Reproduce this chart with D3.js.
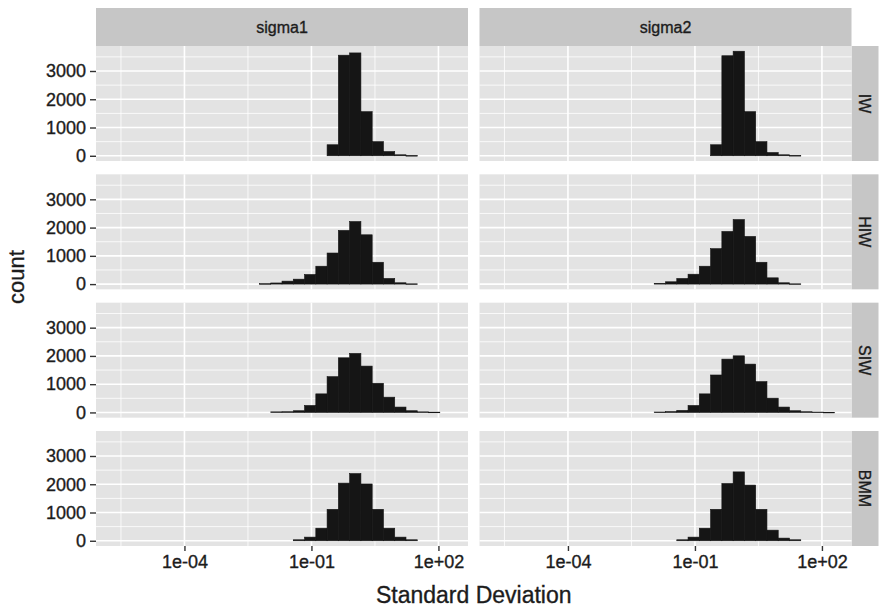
<!DOCTYPE html>
<html><head><meta charset="utf-8">
<script src="https://cdn.jsdelivr.net/npm/d3@7"></script>
<style>body{margin:0;background:#fff}svg{display:block;font-family:"Liberation Sans",Arial,Helvetica,sans-serif}
text{stroke:#1c1c1c;stroke-width:0.35px}</style>
</head><body><svg id="chart" width="880" height="609"></svg>
<script>
// ---- data ----
const columns = ["sigma1", "sigma2"];
const rowFacets = ["IW", "HIW", "SIW", "BMM"];
const binStart = -5.69;      // log10 of first bin edge
const binWidth = 0.2663;     // bin width in log10 units
const nBins = 30;
const xTickValues = [1e-4, 1e-1, 1e2];
const xTickLabels = ["1e-04", "1e-01", "1e+02"];
const xMinorLog = [-5.5, -2.5, 0.5];
const yTicks = [0, 1000, 2000, 3000];
const yMinor = [500, 1500, 2500, 3500];
// each series: first non-empty bin index, then counts per bin
const IW_sigma1_first = 19;
const IW_sigma1 = [390, 3560, 3640, 1560, 500, 150, 35, 8];
const IW_sigma2_first = 19;
const IW_sigma2 = [390, 3540, 3700, 1560, 500, 115, 35, 10];
const HIW_sigma1_first = 13;
const HIW_sigma1 = [15, 40, 105, 175, 340, 633, 1100, 1900, 2214, 1745, 773, 200, 47, 10];
const HIW_sigma2_first = 14;
const HIW_sigma2 = [25, 82, 199, 350, 633, 1254, 1863, 2285, 1687, 773, 222, 47, 10];
const SIW_sigma1_first = 14;
const SIW_sigma1 = [20, 25, 60, 246, 657, 1265, 1933, 2088, 1640, 1032, 540, 190, 60, 20, 10];
const SIW_sigma2_first = 14;
const SIW_sigma2 = [15, 30, 72, 246, 657, 1325, 1887, 2004, 1710, 1090, 505, 190, 60, 25, 12, 5];
const BMM_sigma1_first = 16;
const BMM_sigma1 = [35, 129, 445, 1113, 2040, 2378, 2010, 1113, 445, 129, 35];
const BMM_sigma2_first = 16;
const BMM_sigma2 = [35, 129, 445, 1113, 2027, 2437, 1970, 1113, 375, 94, 35];

const series = {
  IW: {sigma1: [IW_sigma1_first, IW_sigma1], sigma2: [IW_sigma2_first, IW_sigma2]},
  HIW: {sigma1: [HIW_sigma1_first, HIW_sigma1], sigma2: [HIW_sigma2_first, HIW_sigma2]},
  SIW: {sigma1: [SIW_sigma1_first, SIW_sigma1], sigma2: [SIW_sigma2_first, SIW_sigma2]},
  BMM: {sigma1: [BMM_sigma1_first, BMM_sigma1], sigma2: [BMM_sigma2_first, BMM_sigma2]}
};

// ---- layout ----
const colX = [96, 479.5];
const panelW = 372;
const rowTop0 = 46, panelH = 115, rowStep = 128.33;
const stripTop = 8;
const stripRightW = 27;
const panelBg = "#e3e3e3", stripBg = "#c6c6c6", barFill = "#151515", textCol = "#1c1c1c";

const svg = d3.select("#chart");

const x = d3.scaleLog()
  .domain([Math.pow(10, binStart - 1.5 * binWidth), Math.pow(10, binStart + (nBins + 1.5) * binWidth)])
  .range([0, panelW]);

const allMax = d3.max(rowFacets.flatMap(r => columns.flatMap(c => series[r][c][1])));
const y = d3.scaleLinear().domain([-0.05 * allMax, 1.05 * allMax]).range([panelH, 0]);

// column strips
columns.forEach((c, ci) => {
  const g = svg.append("g").attr("transform", `translate(${colX[ci]},${stripTop})`);
  g.append("rect").attr("width", panelW).attr("height", rowTop0 - stripTop).attr("fill", stripBg);
  g.append("text").attr("x", panelW / 2).attr("y", (rowTop0 - stripTop) / 2).attr("dy", "0.35em")
    .attr("text-anchor", "middle").attr("font-size", 16).attr("fill", textCol).text(c);
});

rowFacets.forEach((r, ri) => {
  const top = rowTop0 + ri * rowStep;
  // right strip
  const sg = svg.append("g").attr("transform", `translate(${colX[1] + panelW},${top})`);
  sg.append("rect").attr("width", stripRightW).attr("height", panelH).attr("fill", stripBg);
  sg.append("text").attr("transform", `translate(${stripRightW / 2},${panelH / 2}) rotate(90)`)
    .attr("dy", "0.35em").attr("text-anchor", "middle").attr("font-size", 16).attr("fill", textCol).text(r);

  columns.forEach((c, ci) => {
    const g = svg.append("g").attr("transform", `translate(${colX[ci]},${top})`);
    g.append("rect").attr("width", panelW).attr("height", panelH).attr("fill", panelBg);
    // minor grid
    g.selectAll(".ymin").data(yMinor).join("line")
      .attr("x1", 0).attr("x2", panelW).attr("y1", d => y(d)).attr("y2", d => y(d))
      .attr("stroke", "#fff").attr("stroke-width", 0.8);
    g.selectAll(".xmin").data(xMinorLog).join("line")
      .attr("y1", 0).attr("y2", panelH).attr("x1", d => x(Math.pow(10, d))).attr("x2", d => x(Math.pow(10, d)))
      .attr("stroke", "#fff").attr("stroke-width", 0.8);
    // major grid
    g.selectAll(".ymaj").data(yTicks).join("line")
      .attr("x1", 0).attr("x2", panelW).attr("y1", d => y(d)).attr("y2", d => y(d))
      .attr("stroke", "#fff").attr("stroke-width", 1.6);
    g.selectAll(".xmaj").data(xTickValues).join("line")
      .attr("y1", 0).attr("y2", panelH).attr("x1", d => x(d)).attr("x2", d => x(d))
      .attr("stroke", "#fff").attr("stroke-width", 1.6);
    // bars
    const [first, vals] = series[r][c];
    const bins = vals.map((v, i) => ({k: first + i, v}));
    g.selectAll(".bar").data(bins).join("rect")
      .attr("x", d => x(Math.pow(10, binStart + d.k * binWidth)))
      .attr("width", d => x(Math.pow(10, binStart + (d.k + 1) * binWidth)) - x(Math.pow(10, binStart + d.k * binWidth)))
      .attr("y", d => y(d.v))
      .attr("height", d => Math.max(0.6, y(0) - y(d.v)))
      .attr("fill", barFill).attr("stroke", barFill).attr("stroke-width", 0.6);

    // y axis on first column
    if (ci === 0) {
      const ya = d3.axisLeft(y).tickValues(yTicks).tickSize(6).tickPadding(4).tickFormat(d3.format("d"));
      const ag = g.append("g").call(ya);
      ag.select(".domain").remove();
      ag.selectAll(".tick line").attr("stroke", "#333").attr("stroke-width", 1.4);
      ag.selectAll(".tick text").attr("font-size", 18).attr("fill", textCol).attr("font-family", null);
    }
    // x axis on last row
    if (ri === rowFacets.length - 1) {
      const xa = d3.axisBottom(x).tickValues(xTickValues).tickSize(5).tickPadding(4)
        .tickFormat((d, i) => xTickLabels[i]);
      const ag = g.append("g").attr("transform", `translate(0,${panelH})`).call(xa);
      ag.select(".domain").remove();
      ag.selectAll(".tick line").attr("stroke", "#333").attr("stroke-width", 1.4);
      ag.selectAll(".tick text").attr("font-size", 18).attr("fill", textCol).attr("font-family", null);
    }
  });
});

// axis titles
svg.append("text").attr("x", colX[0] + (colX[1] + panelW - colX[0]) / 2).attr("y", 603)
  .attr("text-anchor", "middle").attr("font-size", 23).attr("fill", textCol).text("Standard Deviation");
const yMid = stripTop + (rowTop0 + 3 * rowStep + panelH - stripTop) / 2;
svg.append("text").attr("transform", `translate(24,${yMid}) rotate(-90)`)
  .attr("text-anchor", "middle").attr("font-size", 22).attr("fill", textCol).text("count");
</script></body></html>
